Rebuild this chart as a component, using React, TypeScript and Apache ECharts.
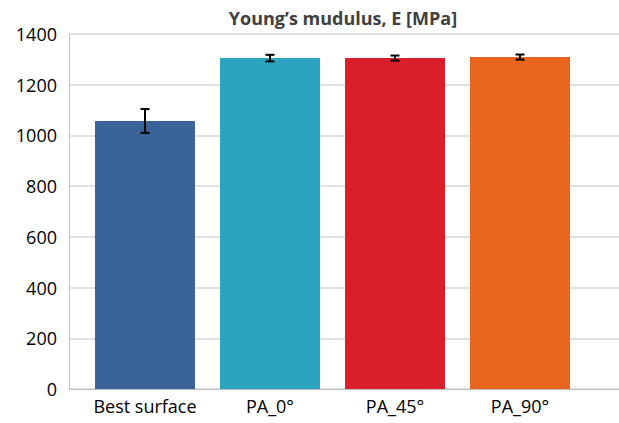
import React, { useEffect, useRef } from "react";
import * as echarts from "echarts";

const categories = ["Best surface", "PA_0°", "PA_45°", "PA_90°"];
const values = [1057, 1305, 1305, 1309];
const errors = [47, 13, 10, 10];
const barColors = ["#3A6399", "#2CA3BF", "#DA1F2B", "#E9641E"];
const yTicks = { min: 0, max: 1400, interval: 200 };
const titleText = "Young’s mudulus, E [MPa]";

export default function App() {
  const ref = useRef<HTMLDivElement>(null);
  useEffect(() => {
    if (!ref.current) return;
    const chart = echarts.init(ref.current, undefined, { renderer: "svg" });
    const font = "'Open Sans', 'Noto Sans', sans-serif";
    const errData = values.map((v, i) => [i, v - errors[i], v + errors[i]]);
    chart.setOption({
      animation: false,
      backgroundColor: "#ffffff",
      textStyle: { fontFamily: font },
      graphic: [
        {
          type: "text",
          x: 343,
          y: 18,
          style: {
            text: titleText,
            fontFamily: font,
            fontWeight: "bold",
            fontSize: 18,
            fill: "#404040",
            textAlign: "center",
            textVerticalAlign: "middle",
          },
        },
      ],
      grid: [
        { left: 69, right: 0, top: 34, bottom: 34 },
        { left: 82.5, right: 36.5, top: 34, bottom: 34 },
      ],
      xAxis: [
        {
          type: "category",
          gridIndex: 0,
          data: [""],
          axisLine: { show: true, lineStyle: { color: "#bfbfbf", width: 1 } },
          axisTick: { show: false },
          axisLabel: { show: false },
        },
        {
          type: "category",
          gridIndex: 1,
          data: categories,
          axisLine: { show: false },
          axisTick: { show: false },
          axisLabel: {
            fontSize: 18,
            color: "#000000",
            margin: 8,
            fontFamily: font,
            interval: 0,
            hideOverlap: false,
          },
        },
      ],
      yAxis: [
        {
          type: "value",
          gridIndex: 0,
          min: yTicks.min,
          max: yTicks.max,
          interval: yTicks.interval,
          axisLine: { show: true, lineStyle: { color: "#bfbfbf", width: 1 } },
          axisTick: { show: false },
          splitLine: { show: true, lineStyle: { color: "#d9d9d9", width: 1.5 } },
          axisLabel: {
            fontSize: 18,
            color: "#000000",
            margin: 12,
            fontFamily: font,
            formatter: (v: number) => String(v),
          },
        },
        {
          type: "value",
          gridIndex: 1,
          min: yTicks.min,
          max: yTicks.max,
          interval: yTicks.interval,
          show: false,
          splitLine: { show: false },
        },
      ],
      series: [
        {
          type: "bar",
          xAxisIndex: 1,
          yAxisIndex: 1,
          barWidth: 100,
          data: values.map((v, i) => ({ value: v, itemStyle: { color: barColors[i] } })),
        },
        {
          type: "custom",
          xAxisIndex: 1,
          yAxisIndex: 1,
          data: errData,
          z: 10,
          renderItem: (params: any, api: any) => {
            const x = api.value(0);
            const lo = api.coord([x, api.value(1)]);
            const hi = api.coord([x, api.value(2)]);
            const hw = 4.5;
            const style = { stroke: "#000000", lineWidth: 2 };
            return {
              type: "group",
              children: [
                { type: "line", shape: { x1: hi[0], y1: hi[1], x2: lo[0], y2: lo[1] }, style },
                { type: "line", shape: { x1: hi[0] - hw, y1: hi[1], x2: hi[0] + hw, y2: hi[1] }, style },
                { type: "line", shape: { x1: lo[0] - hw, y1: lo[1], x2: lo[0] + hw, y2: lo[1] }, style },
              ],
            };
          },
        },
      ],
    });
    return () => chart.dispose();
  }, []);
  return (
    <div
      ref={ref}
      style={{ position: "fixed", left: 0, top: 0, width: 619, height: 423, background: "#fff" }}
    />
  );
}
